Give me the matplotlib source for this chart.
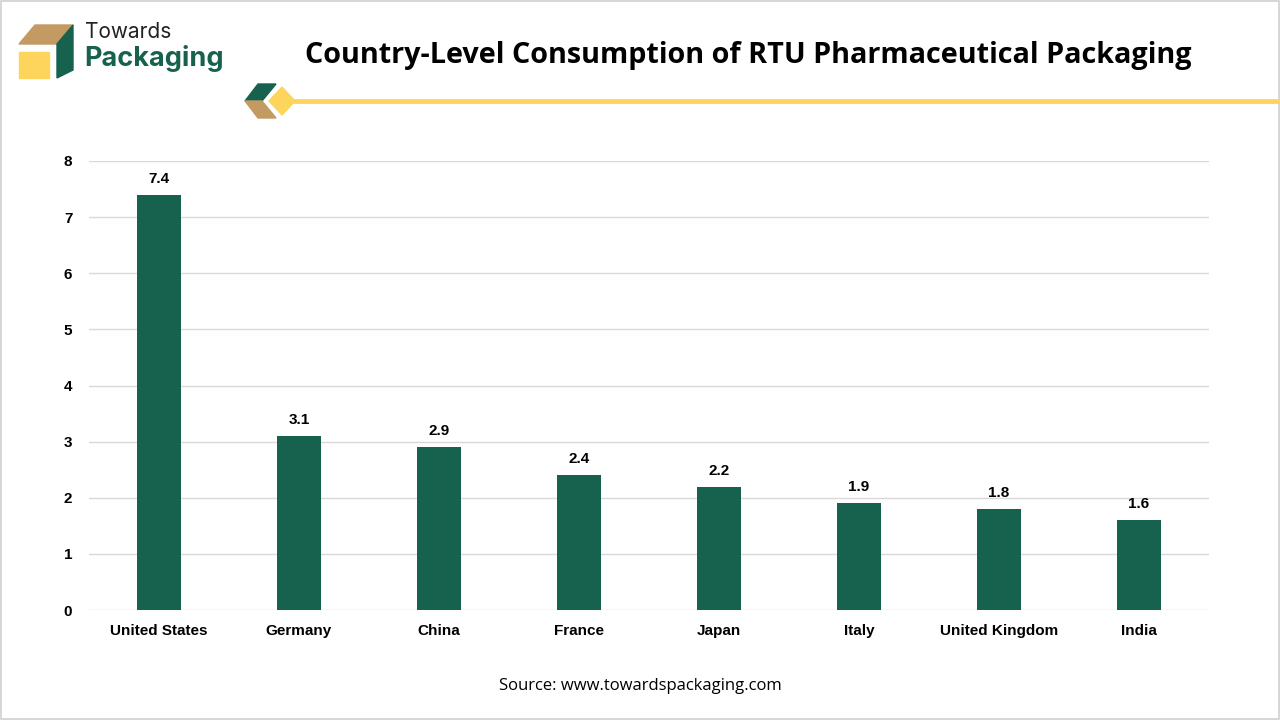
import matplotlib.pyplot as plt
from matplotlib.patches import Polygon, Rectangle

countries = ["United States", "Germany", "China", "France", "Japan", "Italy",
             "United Kingdom", "India"]
consumption = [7.4, 3.1, 2.9, 2.4, 2.2, 1.9, 1.8, 1.6]
y_ticks = [0, 1, 2, 3, 4, 5, 6, 7, 8]

GREEN = "#17624f"
YELLOW = "#fdd55c"
BROWN = "#c49a63"

plt.rcParams["font.family"] = ["Liberation Sans", "DejaVu Sans"]

fig = plt.figure(figsize=(12.8, 7.2), dpi=100)
W, H = 1280, 720


def px(x, y):
    return x / W, 1 - y / H


# frame round the whole picture
fig.add_artist(Rectangle((0.001, 0.001), 0.998, 0.997, transform=fig.transFigure,
                         fill=False, edgecolor="#d0d0d0", lw=1.2))

# logo
fig.add_artist(Polygon([px(19, 52), px(49, 52), px(49, 78), px(19, 78)],
                       closed=True, transform=fig.transFigure, color=YELLOW))
fig.add_artist(Polygon([px(19, 44), px(35, 25), px(73, 25), px(57, 44)],
                       closed=True, transform=fig.transFigure, color=BROWN))
fig.add_artist(Polygon([px(57, 44), px(73, 25), px(73, 70), px(57, 78)],
                       closed=True, transform=fig.transFigure, color=GREEN))
fig.text(*px(85, 32), "Towards", fontsize=15, color="#222222", va="center",
         family=["Inter", "DejaVu Sans"])
fig.text(*px(84, 58), "Packaging", fontsize=19.5, color=GREEN, va="center",
         fontweight="bold", family=["Inter", "DejaVu Sans"])

# title
fig.text(*px(748, 56), "Country-Level Consumption of RTU Pharmaceutical Packaging",
         fontsize=20.7, fontweight="bold", ha="center", va="center",
         family=["Open Sans", "DejaVu Sans"])

# decoration under the title
fig.add_artist(plt.Line2D([px(285, 0)[0], 1.0], [px(0, 101)[1]] * 2,
                          transform=fig.transFigure, color=YELLOW, lw=3.5))
fig.add_artist(Polygon([px(282, 87), px(295, 101), px(282, 115), px(269, 101)],
                       closed=True, transform=fig.transFigure, color=YELLOW))
fig.add_artist(Polygon([px(258, 84), px(276, 84), px(262, 101), px(245, 101)],
                       closed=True, transform=fig.transFigure, color=GREEN))
fig.add_artist(Polygon([px(245, 101), px(262, 101), px(276, 118), px(258, 118)],
                       closed=True, transform=fig.transFigure, color=BROWN))

# chart
l, b = px(89, 610)
r, t = px(1209, 161)
ax = fig.add_axes([l, b, r - l, t - b])
x = range(len(countries))
bars = ax.bar(x, consumption, width=0.315, color=GREEN, zorder=3)
for bar, v in zip(bars, consumption):
    ax.text(bar.get_x() + bar.get_width() / 2, v + 0.16, f"{v}", ha="center",
            va="bottom", fontsize=11, fontweight="bold")

ax.set_xlim(-0.5, len(countries) - 0.5)
ax.set_ylim(0, 8)
ax.set_yticks(y_ticks)
ax.set_xticks(list(x))
ax.set_xticklabels(countries, fontsize=11, fontweight="bold")
ax.set_yticklabels([str(v) for v in y_ticks], fontsize=11, fontweight="bold")
ax.tick_params(length=0, pad=12)
ax.tick_params(axis="x", pad=18)
for lbl in ax.get_xticklabels():
    lbl.set_verticalalignment("baseline")
ax.grid(axis="y", color="#d9d9d9", lw=1, zorder=0)
for s in ax.spines.values():
    s.set_visible(False)

fig.text(0.5, px(0, 686)[1], "Source: www.towardspackaging.com", ha="center",
         va="center", fontsize=12, family=["Open Sans", "DejaVu Sans"])

fig.savefig("out.png", dpi=100)
